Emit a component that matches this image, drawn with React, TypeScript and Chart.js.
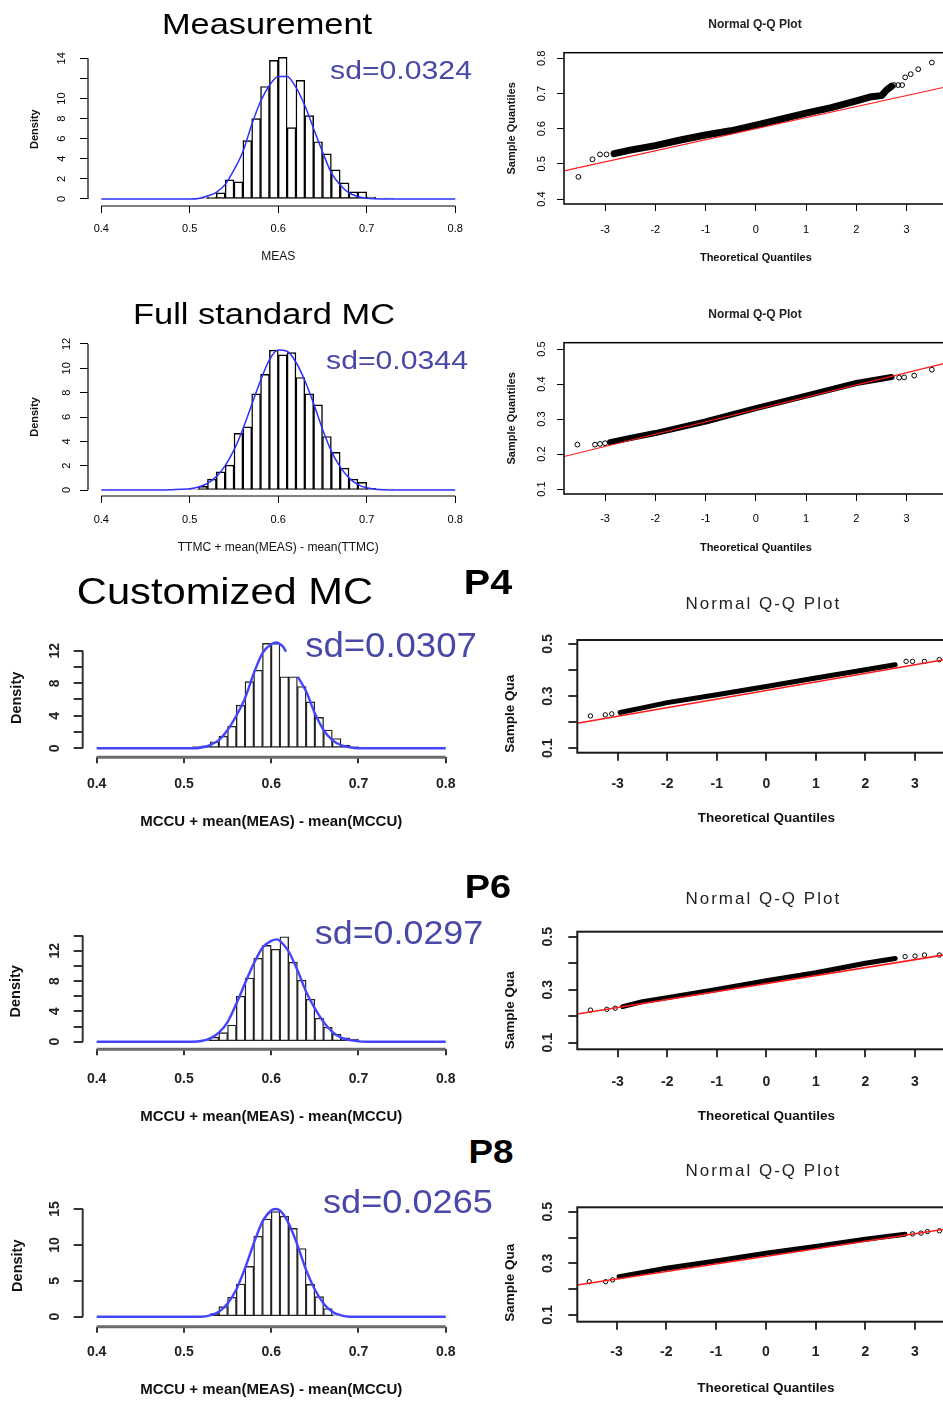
import React, { useEffect, useRef } from 'react';
import { Chart, registerables } from 'chart.js';

Chart.register(...registerables);

const FONT = '"Liberation Sans", Arial, Helvetica, sans-serif';
Chart.defaults.font.family = FONT;

// ---------------- shared tick values ----------------
const HIST_X_TICKS = [0.4, 0.5, 0.6, 0.7, 0.8];
const HIST_X_LABELS = ['0.4', '0.5', '0.6', '0.7', '0.8'];
const QQ_X_TICKS = [-3, -2, -1, 0, 1, 2, 3];
const QQ_X_LABELS = ['-3', '-2', '-1', '0', '1', '2', '3'];
const QQ_Y_TICKS_LOW = [0.1, 0.2, 0.3, 0.4, 0.5];
const QQ_Y_LABELS_LOW = ['0.1', '', '0.3', '', '0.5'];

// ---------------- Measurement ----------------
const measBins = [0.515, 0.525, 0.535, 0.545, 0.555, 0.565, 0.575, 0.585, 0.595, 0.605, 0.615, 0.625, 0.635, 0.645, 0.655, 0.665, 0.675, 0.685, 0.695, 0.705, 0.715, 0.725];
const measDensity = [0.1, 0.2, 0.6, 1.9, 1.7, 5.8, 8.0, 11.2, 13.8, 14.1, 7.1, 11.8, 8.3, 5.7, 4.5, 2.9, 1.6, 0.7, 0.7, 0.2, 0.05, 0.1];
const measKdeX = [0.4, 0.5, 0.51, 0.52, 0.53, 0.54, 0.55, 0.56, 0.57, 0.58, 0.59, 0.6, 0.61, 0.62, 0.63, 0.64, 0.65, 0.66, 0.67, 0.68, 0.69, 0.7, 0.71, 0.72, 0.8];
const measKdeY = [0, 0, 0.05, 0.3, 0.65, 1.45, 2.9, 4.7, 7.4, 9.7, 11.3, 12.2, 12.2, 11.1, 9.3, 7.0, 4.7, 2.6, 1.4, 0.6, 0.25, 0.08, 0.02, 0, 0];
const measYTicks = [0, 2, 4, 6, 8, 10, 12, 14];
const measYLabels = ['0', '2', '4', '6', '8', '10', '', '14'];
const measQQYTicks = [0.4, 0.5, 0.6, 0.7, 0.8];
const measQQYLabels = ['0.4', '0.5', '0.6', '0.7', '0.8'];
const measQQBandX = [-2.82, -2.5, -2.0, -1.5, -1.0, -0.5, 0, 0.5, 1.0, 1.5, 2.0, 2.3, 2.5, 2.6, 2.7];
const measQQBandY = [0.529, 0.539, 0.552, 0.568, 0.582, 0.594, 0.61, 0.627, 0.644, 0.66, 0.679, 0.691, 0.694, 0.71, 0.721];
const measQQTailX = [-3.53, -3.25, -3.1, -2.97, 2.75, 2.83, 2.91, 2.97, 3.08, 3.23, 3.5];
const measQQTailY = [0.463, 0.513, 0.527, 0.527, 0.724, 0.724, 0.724, 0.746, 0.755, 0.769, 0.788];
const measQQLineX = [-3.816, 3.816];
const measQQLineY = [0.48, 0.72];

// ---------------- Full standard MC ----------------
const fullBins = [0.505, 0.515, 0.525, 0.535, 0.545, 0.555, 0.565, 0.575, 0.585, 0.595, 0.605, 0.615, 0.625, 0.635, 0.645, 0.655, 0.665, 0.675, 0.685, 0.695, 0.705, 0.715, 0.725];
const fullDensity = [0.05, 0.3, 0.9, 1.5, 2.05, 4.65, 5.2, 7.9, 9.5, 11.5, 11.1, 11.3, 9.25, 7.9, 7.0, 4.4, 3.1, 1.8, 0.9, 0.63, 0.15, 0.08, 0.08];
const fullKdeX = [0.4, 0.47, 0.48, 0.49, 0.5, 0.51, 0.52, 0.53, 0.54, 0.55, 0.56, 0.57, 0.58, 0.59, 0.6, 0.61, 0.62, 0.63, 0.64, 0.65, 0.66, 0.67, 0.68, 0.69, 0.7, 0.71, 0.72, 0.73, 0.8];
const fullKdeY = [0, 0, 0.03, 0.06, 0.1, 0.25, 0.55, 1.1, 2.0, 3.3, 5.0, 7.0, 9.0, 10.7, 11.5, 11.4, 10.5, 9.0, 7.1, 5.0, 3.2, 1.9, 1.0, 0.45, 0.18, 0.06, 0.02, 0, 0];
const fullYTicks = [0, 2, 4, 6, 8, 10, 12];
const fullYLabels = ['0', '2', '4', '6', '8', '10', '12'];
const fullQQYTicks = [0.1, 0.2, 0.3, 0.4, 0.5];
const fullQQYLabels = ['0.1', '0.2', '0.3', '0.4', '0.5'];
const fullQQBandX = [-2.9, -2.5, -2.0, -1.0, 0, 1.0, 2.0, 2.7];
const fullQQBandY = [0.234, 0.246, 0.26, 0.293, 0.331, 0.367, 0.403, 0.42];
const fullQQTailX = [-3.55, -3.2, -3.1, -3.0, 2.85, 2.95, 3.15, 3.5];
const fullQQTailY = [0.227, 0.227, 0.229, 0.231, 0.418, 0.419, 0.424, 0.441];
const fullQQLineX = [-3.816, 3.816];
const fullQQLineY = [0.193, 0.461];

// ---------------- Customized MC, P4 ----------------
const p4Bins = [0.515, 0.525, 0.535, 0.545, 0.555, 0.565, 0.575, 0.585, 0.595, 0.605, 0.615, 0.625, 0.635, 0.645, 0.655, 0.665, 0.675, 0.685, 0.695, 0.705];
const p4Density = [0.2, 0.3, 0.8, 1.5, 2.7, 5.3, 8.2, 9.6, 12.9, 12.9, 8.8, 8.8, 7.6, 5.7, 3.8, 2.25, 1.2, 0.4, 0.2, 0.1];
const p4KdeX = [0.4, 0.51, 0.52, 0.53, 0.54, 0.55, 0.56, 0.57, 0.58, 0.59, 0.6, 0.606, 0.61, 0.6135, 0.617, 0.624, 0.6305, 0.64, 0.65, 0.66, 0.67, 0.68, 0.69, 0.7, 0.8];
const p4KdeY = [0, 0, 0.1, 0.4, 1.0, 2.25, 4.0, 6.15, 9.2, 11.7, 12.8, 13.0, 12.8, 12.5, 11.9, null, 8.8, 7.0, 4.3, 2.25, 1.0, 0.4, 0.12, 0, 0];
const p4YTicks = [0, 2, 4, 6, 8, 10, 12];
const p4YLabels = ['0', '', '4', '', '8', '', '12'];
const p4QQBandX = [-2.95, -2.5, -2.0, -1.0, 0, 1.0, 2.0, 2.6];
const p4QQBandY = [0.237, 0.255, 0.275, 0.305, 0.337, 0.369, 0.401, 0.42];
const p4QQTailX = [-3.55, -3.25, -3.12, 2.82, 2.95, 3.19, 3.49];
const p4QQTailY = [0.224, 0.228, 0.232, 0.433, 0.433, 0.433, 0.44];
const p4QQLineX = [-3.815, 3.815];
const p4QQLineY = [0.196, 0.447];

// ---------------- P6 ----------------
const p6Bins = [0.525, 0.535, 0.545, 0.555, 0.565, 0.575, 0.585, 0.595, 0.605, 0.615, 0.625, 0.635, 0.645, 0.655, 0.665, 0.675, 0.685, 0.695];
const p6Density = [0.2, 0.6, 1.2, 2.2, 6.0, 8.4, 11.0, 12.7, 12.2, 13.85, 10.5, 8.1, 5.6, 3.1, 1.9, 1.0, 0.5, 0.35];
const p6KdeX = [0.4, 0.51, 0.52, 0.53, 0.54, 0.55, 0.56, 0.57, 0.58, 0.59, 0.6, 0.607, 0.61, 0.62, 0.63, 0.64, 0.65, 0.66, 0.67, 0.68, 0.69, 0.7, 0.71, 0.8];
const p6KdeY = [0, 0, 0.1, 0.45, 1.2, 2.6, 5.0, 7.7, 10.3, 12.4, 13.3, 13.5, 13.3, 11.9, 9.45, 6.6, 4.4, 2.6, 1.3, 0.55, 0.2, 0.05, 0, 0];
const p6YTicks = [0, 2, 4, 6, 8, 10, 12, 14];
const p6YLabels = ['0', '', '4', '', '8', '', '12', ''];
const p6QQBandX = [-2.9, -2.5, -2.0, -1.0, 0, 1.0, 2.0, 2.6];
const p6QQBandY = [0.236, 0.255, 0.27, 0.301, 0.334, 0.364, 0.4, 0.418];
const p6QQTailX = [-3.55, -3.22, -3.05, 2.8, 3.0, 3.19, 3.49];
const p6QQTailY = [0.223, 0.226, 0.23, 0.425, 0.427, 0.431, 0.431];
const p6QQLineX = [-3.815, 3.815];
const p6QQLineY = [0.208, 0.438];

// ---------------- P8 ----------------
const p8Bins = [0.535, 0.545, 0.555, 0.565, 0.575, 0.585, 0.595, 0.605, 0.615, 0.625, 0.635, 0.645, 0.655, 0.665, 0.675];
const p8Density = [0.45, 1.4, 2.7, 4.55, 7.0, 11.2, 13.6, 14.65, 14.0, 12.3, 9.5, 4.5, 2.8, 1.15, 0.25];
const p8KdeX = [0.4, 0.52, 0.53, 0.54, 0.55, 0.56, 0.57, 0.58, 0.59, 0.6, 0.605, 0.61, 0.62, 0.63, 0.64, 0.65, 0.66, 0.67, 0.68, 0.69, 0.8];
const p8KdeY = [0, 0, 0.2, 0.7, 1.85, 3.8, 6.75, 10.2, 13.25, 14.8, 15.0, 14.8, 13.0, 10.0, 6.5, 3.8, 1.85, 0.7, 0.2, 0, 0];
const p8YTicks = [0, 5, 10, 15];
const p8YLabels = ['0', '5', '10', '15'];
const p8QQBandX = [-2.95, -2.5, -2.0, -1.0, 0, 1.0, 2.0, 2.8];
const p8QQBandY = [0.248, 0.264, 0.281, 0.309, 0.339, 0.365, 0.393, 0.413];
const p8QQTailX = [-3.55, -3.22, -3.08, 2.95, 3.12, 3.25, 3.49];
const p8QQTailY = [0.229, 0.229, 0.236, 0.414, 0.417, 0.423, 0.426];
const p8QQLineX = [-3.79, 3.79];
const p8QQLineY = [0.216, 0.438];

// ---------------- styles ----------------
const SD_COLOR = '#4848a8';
type FontSpec = { size: number; weight: string };
const TOP_TICK: FontSpec = { size: 11, weight: 'normal' };
const LOW_TICK: FontSpec = { size: 14, weight: 'bold' };

const pts = (xs: number[], ys: (number | null)[]) => xs.map((x, i) => ({ x, y: ys[i] }));

function histDatasets(bins: number[], dens: number[], kx: number[], ky: (number | null)[], low: boolean) {
  return [
    {
      type: 'line',
      data: pts(kx, ky),
      borderColor: low ? '#4444ff' : '#2f2fff',
      borderWidth: low ? 2.4 : 1.5,
      pointRadius: 0,
      cubicInterpolationMode: 'monotone',
      spanGaps: false,
      order: 0,
    },
    {
      type: 'bar',
      data: pts(bins, dens),
      backgroundColor: 'rgba(255,255,255,0)',
      borderColor: low ? '#222' : '#000',
      borderWidth: low ? 0.7 : 0.8,
      borderSkipped: false,
      barPercentage: 1,
      categoryPercentage: 1,
      grouped: false,
      order: 1,
    },
  ];
}

function qqDatasets(lx: number[], ly: number[], bx: number[], by: number[], tx: number[], ty: number[], bandW: number, low: boolean) {
  return [
    { data: pts(lx, ly), showLine: true, borderColor: '#ff1a1a', borderWidth: low ? 1.6 : 1.2, pointRadius: 0, order: 0 },
    { data: pts(bx, by), showLine: true, borderColor: '#000', borderWidth: bandW, pointRadius: 0, borderCapStyle: 'round', borderJoinStyle: 'round', order: 1 },
    { data: pts(tx, ty), showLine: false, pointRadius: low ? 2.2 : 2.4, borderColor: '#000', backgroundColor: 'rgba(0,0,0,0)', borderWidth: 1, order: 2 },
  ];
}

interface PanelSpec {
  kind: 'hist' | 'qq';
  plot: [number, number, number, number];
  xRange: [number, number];
  yRange: [number, number];
  xTicks: number[]; xLabels: string[];
  yTicks: number[]; yLabels: string[];
  xTitle: string; yTitle: string; yTitleAlign: 'center' | 'start';
  xTitleY: number; yTitleX: number; xTickLabelY: number; yTickLabelX: number;
  xTickLen: number; yTickLen: number;
  tickFont: FontSpec; xTitleFont: FontSpec; yTitleFont: FontSpec;
  tickColor: string; markColor: string; markWidth: number;
  axes: any;
  datasets: any[];
}

const TOP_HIST_AXES = { mode: 'hist', xColor: '#000', xWidth: 1.2, yColor: '#000', yWidth: 1.2 };
const LOW_HIST_AXES = { mode: 'hist', xColor: '#6b6b6b', xWidth: 3, yColor: '#333', yWidth: 2 };
const TOP_BOX = { mode: 'box', color: '#000', width: 1.5 };
const LOW_BOX = { mode: 'box', color: '#1a1a1a', width: 2 };

const SPECS: PanelSpec[] = [
  // Measurement histogram
  {
    kind: 'hist', plot: [88, 52.3, 468.5, 206], xRange: [0.385, 0.815], yRange: [-0.7, 14.6],
    xTicks: HIST_X_TICKS, xLabels: HIST_X_LABELS, yTicks: measYTicks, yLabels: measYLabels,
    xTitle: 'MEAS', yTitle: 'Density', yTitleAlign: 'center',
    xTitleY: 257, yTitleX: 35, xTickLabelY: 229, yTickLabelX: 61.7, xTickLen: 7, yTickLen: 8,
    tickFont: TOP_TICK, xTitleFont: { size: 12, weight: 'normal' }, yTitleFont: { size: 11, weight: 'bold' },
    tickColor: '#000', markColor: '#000', markWidth: 1, axes: TOP_HIST_AXES,
    datasets: histDatasets(measBins, measDensity, measKdeX, measKdeY, false),
  },
  // Measurement QQ
  {
    kind: 'qq', plot: [564, 52.7, 947.7, 204], xRange: [-3.816, 3.816], yRange: [0.386, 0.816],
    xTicks: QQ_X_TICKS, xLabels: QQ_X_LABELS, yTicks: measQQYTicks, yLabels: measQQYLabels,
    xTitle: 'Theoretical Quantiles', yTitle: 'Sample Quantiles', yTitleAlign: 'center',
    xTitleY: 257.7, yTitleX: 511.7, xTickLabelY: 230, yTickLabelX: 541.7, xTickLen: 7, yTickLen: 7,
    tickFont: TOP_TICK, xTitleFont: { size: 11, weight: 'bold' }, yTitleFont: { size: 11, weight: 'bold' },
    tickColor: '#000', markColor: '#000', markWidth: 1, axes: TOP_BOX,
    datasets: qqDatasets(measQQLineX, measQQLineY, measQQBandX, measQQBandY, measQQTailX, measQQTailY, 7, false),
  },
  // Full standard MC histogram
  {
    kind: 'hist', plot: [88, 337.9, 468.5, 496], xRange: [0.385, 0.815], yRange: [-0.49, 12.5],
    xTicks: HIST_X_TICKS, xLabels: HIST_X_LABELS, yTicks: fullYTicks, yLabels: fullYLabels,
    xTitle: 'TTMC + mean(MEAS) - mean(TTMC)', yTitle: 'Density', yTitleAlign: 'center',
    xTitleY: 548, yTitleX: 35, xTickLabelY: 520, yTickLabelX: 66.7, xTickLen: 7, yTickLen: 8,
    tickFont: TOP_TICK, xTitleFont: { size: 12, weight: 'normal' }, yTitleFont: { size: 11, weight: 'bold' },
    tickColor: '#000', markColor: '#000', markWidth: 1, axes: TOP_HIST_AXES,
    datasets: histDatasets(fullBins, fullDensity, fullKdeX, fullKdeY, false),
  },
  // Full standard MC QQ
  {
    kind: 'qq', plot: [564, 342.7, 947.7, 494], xRange: [-3.816, 3.816], yRange: [0.086, 0.518],
    xTicks: QQ_X_TICKS, xLabels: QQ_X_LABELS, yTicks: fullQQYTicks, yLabels: fullQQYLabels,
    xTitle: 'Theoretical Quantiles', yTitle: 'Sample Quantiles', yTitleAlign: 'center',
    xTitleY: 548.3, yTitleX: 511.7, xTickLabelY: 519.3, yTickLabelX: 541.7, xTickLen: 7, yTickLen: 7,
    tickFont: TOP_TICK, xTitleFont: { size: 11, weight: 'bold' }, yTitleFont: { size: 11, weight: 'bold' },
    tickColor: '#000', markColor: '#000', markWidth: 1, axes: TOP_BOX,
    datasets: qqDatasets(fullQQLineX, fullQQLineY, fullQQBandX, fullQQBandY, fullQQTailX, fullQQTailY, 6, false),
  },
  // P4 histogram
  {
    kind: 'hist', plot: [82.7, 638.5, 459.7, 757.3], xRange: [0.384, 0.816], yRange: [-1.107, 13.5],
    xTicks: HIST_X_TICKS, xLabels: HIST_X_LABELS, yTicks: p4YTicks, yLabels: p4YLabels,
    xTitle: 'MCCU + mean(MEAS) - mean(MCCU)', yTitle: 'Density', yTitleAlign: 'center',
    xTitleY: 821.7, yTitleX: 17, xTickLabelY: 784, yTickLabelX: 55.5, xTickLen: 6, yTickLen: 9,
    tickFont: LOW_TICK, xTitleFont: { size: 15, weight: 'bold' }, yTitleFont: { size: 14.5, weight: 'bold' },
    tickColor: '#222', markColor: '#333', markWidth: 2, axes: LOW_HIST_AXES,
    datasets: histDatasets(p4Bins, p4Density, p4KdeX, p4KdeY, true),
  },
  // P4 QQ
  {
    kind: 'qq', plot: [577.3, 640, 955.4, 752.7], xRange: [-3.815, 3.815], yRange: [0.083, 0.515],
    xTicks: QQ_X_TICKS, xLabels: QQ_X_LABELS, yTicks: QQ_Y_TICKS_LOW, yLabels: QQ_Y_LABELS_LOW,
    xTitle: 'Theoretical Quantiles', yTitle: 'Sample Qua', yTitleAlign: 'start',
    xTitleY: 818.3, yTitleX: 510, xTickLabelY: 784.2, yTickLabelX: 548.3, xTickLen: 8, yTickLen: 9,
    tickFont: LOW_TICK, xTitleFont: { size: 13.5, weight: 'bold' }, yTitleFont: { size: 13.5, weight: 'bold' },
    tickColor: '#222', markColor: '#333', markWidth: 2, axes: LOW_BOX,
    datasets: qqDatasets(p4QQLineX, p4QQLineY, p4QQBandX, p4QQBandY, p4QQTailX, p4QQTailY, 5, true),
  },
  // P6 histogram
  {
    kind: 'hist', plot: [82.7, 933.3, 459.7, 1049.3], xRange: [0.384, 0.816], yRange: [-1.0, 14.3],
    xTicks: HIST_X_TICKS, xLabels: HIST_X_LABELS, yTicks: p6YTicks, yLabels: p6YLabels,
    xTitle: 'MCCU + mean(MEAS) - mean(MCCU)', yTitle: 'Density', yTitleAlign: 'center',
    xTitleY: 1116.7, yTitleX: 16, xTickLabelY: 1079.2, yTickLabelX: 55, xTickLen: 6, yTickLen: 9,
    tickFont: LOW_TICK, xTitleFont: { size: 15, weight: 'bold' }, yTitleFont: { size: 14.5, weight: 'bold' },
    tickColor: '#222', markColor: '#333', markWidth: 2, axes: LOW_HIST_AXES,
    datasets: histDatasets(p6Bins, p6Density, p6KdeX, p6KdeY, true),
  },
  // P6 QQ
  {
    kind: 'qq', plot: [577.3, 931.7, 955.4, 1049.3], xRange: [-3.815, 3.815], yRange: [0.075, 0.519],
    xTicks: QQ_X_TICKS, xLabels: QQ_X_LABELS, yTicks: QQ_Y_TICKS_LOW, yLabels: QQ_Y_LABELS_LOW,
    xTitle: 'Theoretical Quantiles', yTitle: 'Sample Qua', yTitleAlign: 'start',
    xTitleY: 1116.7, yTitleX: 510, xTickLabelY: 1082.5, yTickLabelX: 548.3, xTickLen: 8, yTickLen: 9,
    tickFont: LOW_TICK, xTitleFont: { size: 13.5, weight: 'bold' }, yTitleFont: { size: 13.5, weight: 'bold' },
    tickColor: '#222', markColor: '#333', markWidth: 2, axes: LOW_BOX,
    datasets: qqDatasets(p6QQLineX, p6QQLineY, p6QQBandX, p6QQBandY, p6QQTailX, p6QQTailY, 5, true),
  },
  // P8 histogram
  {
    kind: 'hist', plot: [82.7, 1204.7, 459.7, 1326.7], xRange: [0.384, 0.816], yRange: [-1.39, 15.6],
    xTicks: HIST_X_TICKS, xLabels: HIST_X_LABELS, yTicks: p8YTicks, yLabels: p8YLabels,
    xTitle: 'MCCU + mean(MEAS) - mean(MCCU)', yTitle: 'Density', yTitleAlign: 'center',
    xTitleY: 1390, yTitleX: 18, xTickLabelY: 1351.8, yTickLabelX: 55.5, xTickLen: 6, yTickLen: 9,
    tickFont: LOW_TICK, xTitleFont: { size: 15, weight: 'bold' }, yTitleFont: { size: 14.5, weight: 'bold' },
    tickColor: '#222', markColor: '#333', markWidth: 2, axes: LOW_HIST_AXES,
    datasets: histDatasets(p8Bins, p8Density, p8KdeX, p8KdeY, true),
  },
  // P8 QQ
  {
    kind: 'qq', plot: [577.3, 1207.3, 954.3, 1321.7], xRange: [-3.79, 3.79], yRange: [0.074, 0.517],
    xTicks: QQ_X_TICKS, xLabels: QQ_X_LABELS, yTicks: QQ_Y_TICKS_LOW, yLabels: QQ_Y_LABELS_LOW,
    xTitle: 'Theoretical Quantiles', yTitle: 'Sample Qua', yTitleAlign: 'start',
    xTitleY: 1388.3, yTitleX: 510, xTickLabelY: 1351.7, yTickLabelX: 548.3, xTickLen: 8, yTickLen: 9,
    tickFont: LOW_TICK, xTitleFont: { size: 13.5, weight: 'bold' }, yTitleFont: { size: 13.5, weight: 'bold' },
    tickColor: '#222', markColor: '#333', markWidth: 2, axes: LOW_BOX,
    datasets: qqDatasets(p8QQLineX, p8QQLineY, p8QQBandX, p8QQBandY, p8QQTailX, p8QQTailY, 5, true),
  },
];

// Free-standing labels (titles, sd annotations)
const TEXTS = [
  { text: 'Measurement', x: 267, y: 24.2, size: 30.3, weight: 400, color: '#000', sx: 1.135, ls: 0 },
  { text: 'sd=0.0324', x: 401, y: 70.8, size: 25.6, weight: 400, color: SD_COLOR, sx: 1.18, ls: 0 },
  { text: 'Normal Q-Q Plot', x: 755, y: 24.3, size: 12, weight: 700, color: '#222', sx: 1, ls: 0 },
  { text: 'Full standard MC', x: 264.2, y: 314.2, size: 30.3, weight: 400, color: '#000', sx: 1.136, ls: 0 },
  { text: 'sd=0.0344', x: 397.2, y: 360.8, size: 25.6, weight: 400, color: SD_COLOR, sx: 1.18, ls: 0 },
  { text: 'Normal Q-Q Plot', x: 755, y: 314.3, size: 12, weight: 700, color: '#222', sx: 1, ls: 0 },
  { text: 'Customized MC', x: 225, y: 591.7, size: 37.2, weight: 400, color: '#000', sx: 1.12, ls: 0 },
  { text: 'P4', x: 487.5, y: 580.8, size: 35, weight: 700, color: '#000', sx: 1.13, ls: 0 },
  { text: 'sd=0.0307', x: 390.8, y: 644.2, size: 35, weight: 400, color: SD_COLOR, sx: 1.044, ls: 0 },
  { text: 'Normal Q-Q Plot', x: 763.3, y: 603.3, size: 17, weight: 400, color: '#222', sx: 1, ls: 2 },
  { text: 'P6', x: 488.3, y: 885.8, size: 33, weight: 700, color: '#000', sx: 1.15, ls: 0 },
  { text: 'sd=0.0297', x: 399.2, y: 933.3, size: 32.6, weight: 400, color: SD_COLOR, sx: 1.1, ls: 0 },
  { text: 'Normal Q-Q Plot', x: 763.3, y: 897.5, size: 17, weight: 400, color: '#222', sx: 1, ls: 2 },
  { text: 'P8', x: 490.8, y: 1151.7, size: 32.6, weight: 700, color: '#000', sx: 1.13, ls: 0 },
  { text: 'sd=0.0265', x: 408.3, y: 1201.7, size: 32.6, weight: 400, color: SD_COLOR, sx: 1.11, ls: 0 },
  { text: 'Normal Q-Q Plot', x: 763.3, y: 1170, size: 17, weight: 400, color: '#222', sx: 1, ls: 2 },
];

// R-style axes: lines from first to last tick, or a full box
const rAxesPlugin = {
  id: 'rAxes',
  afterDraw(chart: any, _args: any, opts: any) {
    if (!opts || !opts.mode) return;
    const { ctx, chartArea: a } = chart;
    const xs = chart.scales.x;
    const ys = chart.scales.y;
    ctx.save();
    if (opts.mode === 'box') {
      ctx.strokeStyle = opts.color;
      ctx.lineWidth = opts.width;
      ctx.strokeRect(a.left, a.top, a.right - a.left, a.bottom - a.top);
    } else {
      const xt = xs.ticks;
      const yt = ys.ticks;
      ctx.lineCap = 'butt';
      ctx.strokeStyle = opts.xColor;
      ctx.lineWidth = opts.xWidth;
      ctx.beginPath();
      ctx.moveTo(xs.getPixelForValue(xt[0].value), a.bottom);
      ctx.lineTo(xs.getPixelForValue(xt[xt.length - 1].value), a.bottom);
      ctx.stroke();
      ctx.strokeStyle = opts.yColor;
      ctx.lineWidth = opts.yWidth;
      ctx.beginPath();
      ctx.moveTo(a.left, ys.getPixelForValue(yt[0].value));
      ctx.lineTo(a.left, ys.getPixelForValue(yt[yt.length - 1].value));
      ctx.stroke();
    }
    ctx.restore();
  },
};

function fontStr(f: FontSpec) {
  return `${f.weight} ${f.size}px ${FONT}`;
}

function geometry(s: PanelSpec) {
  const [pl, pt, pr, pb] = s.plot;
  const left = s.kind === 'hist' ? 0 : 480;
  const top = Math.floor(pt - 32);
  const hx = s.xTitleY + (s.xTitleFont.size * 1.2) / 2 - pb;
  const right = Math.ceil(pr + 24);
  const bottom = Math.ceil(pb + hx + 4);
  const w = right - left;
  const h = bottom - top;
  return {
    left, top, w, h, hx,
    wy: pl - left,
    padTop: pt - top,
    padRight: right - pr,
    padBottom: bottom - pb - hx,
  };
}

function Panel({ spec }: { spec: PanelSpec }) {
  const ref = useRef<HTMLCanvasElement>(null);
  const g = geometry(spec);
  useEffect(() => {
    const canvas = ref.current!;
    const mctx = document.createElement('canvas').getContext('2d')!;
    mctx.font = fontStr(spec.tickFont);
    let widest = 0;
    spec.yLabels.forEach((l) => { widest = Math.max(widest, mctx.measureText(l).width); });
    const [pl, , , pb] = spec.plot;
    const tickLH = spec.tickFont.size * 1.2;
    const xPad = spec.xTickLabelY - pb - spec.xTickLen - tickLH / 2;
    const yPad = pl - spec.yTickLen - widest / 2 - spec.yTickLabelX;
    const yTitlePad = spec.yTitleX - g.left - (spec.yTitleFont.size * 1.2) / 2;

    const chart = new Chart(canvas, {
      type: spec.kind === 'hist' ? 'bar' : 'scatter',
      data: { datasets: spec.datasets as any },
      plugins: [rAxesPlugin as any],
      options: {
        responsive: false,
        animation: false,
        devicePixelRatio: 1,
        events: [],
        layout: { padding: { left: 0, top: g.padTop, right: g.padRight, bottom: g.padBottom } },
        plugins: {
          legend: { display: false },
          tooltip: { enabled: false },
          title: { display: false },
          rAxes: spec.axes,
        } as any,
        scales: {
          x: {
            type: 'linear',
            min: spec.xRange[0],
            max: spec.xRange[1],
            offset: false,
            afterBuildTicks: (sc: any) => { sc.ticks = spec.xTicks.map((v) => ({ value: v })); },
            afterFit: (sc: any) => { sc.height = g.hx; },
            ticks: {
              autoSkip: false, maxRotation: 0, minRotation: 0, padding: xPad,
              color: spec.tickColor, font: spec.tickFont as any,
              callback: (_v: any, i: number) => spec.xLabels[i],
            },
            grid: { display: true, drawOnChartArea: false, drawTicks: true, tickLength: spec.xTickLen, color: spec.markColor, lineWidth: spec.markWidth, offset: false },
            border: { display: false },
            title: { display: true, text: spec.xTitle, color: '#111', font: spec.xTitleFont as any, padding: 0 },
          },
          y: {
            type: 'linear',
            min: spec.yRange[0],
            max: spec.yRange[1],
            afterBuildTicks: (sc: any) => { sc.ticks = spec.yTicks.map((v) => ({ value: v })); },
            afterFit: (sc: any) => { sc.width = g.wy; },
            ticks: {
              autoSkip: false, minRotation: 90, maxRotation: 90, crossAlign: 'center', padding: yPad,
              color: spec.tickColor, font: spec.tickFont as any,
              callback: (_v: any, i: number) => spec.yLabels[i],
            },
            grid: { display: true, drawOnChartArea: false, drawTicks: true, tickLength: spec.yTickLen, color: spec.markColor, lineWidth: spec.markWidth },
            border: { display: false },
            title: { display: true, text: spec.yTitle, color: '#111', font: spec.yTitleFont as any, align: spec.yTitleAlign, padding: { top: yTitlePad, bottom: 0 } },
          },
        } as any,
      },
    });
    return () => chart.destroy();
  }, []);
  return (
    <canvas
      ref={ref}
      width={g.w}
      height={g.h}
      style={{ position: 'absolute', left: g.left, top: g.top, width: g.w, height: g.h, zIndex: 1 }}
    />
  );
}

export default function App() {
  return (
    <div style={{ position: 'absolute', left: 0, top: 0, width: 943, height: 1401, overflow: 'hidden', background: '#fff' }}>
      {SPECS.map((s, i) => <Panel key={i} spec={s} />)}
      {TEXTS.map((t, i) => (
        <div
          key={'t' + i}
          style={{
            position: 'absolute', left: t.x, top: t.y,
            transform: `translate(-50%, -50%) scaleX(${t.sx})`,
            fontFamily: FONT, fontSize: t.size, fontWeight: t.weight, color: t.color,
            lineHeight: 1, whiteSpace: 'nowrap', letterSpacing: t.ls ? `${t.ls}px` : 'normal', zIndex: 2,
          }}
        >
          {t.text}
        </div>
      ))}
    </div>
  );
}
